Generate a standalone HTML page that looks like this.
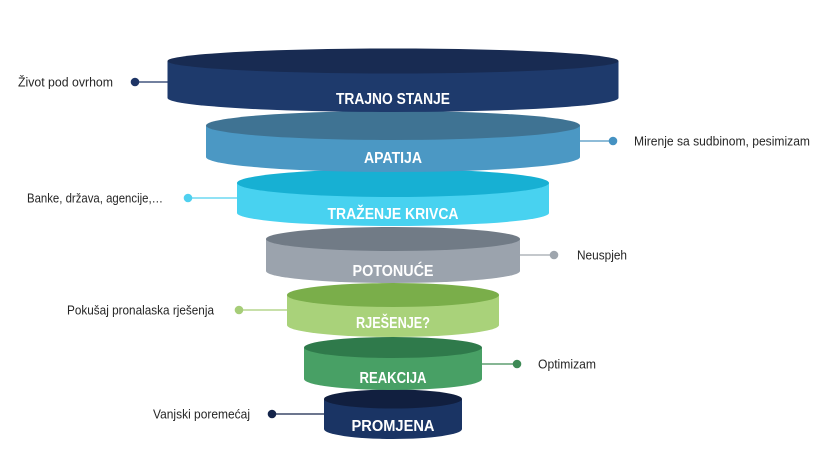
<!DOCTYPE html>
<html>
<head>
<meta charset="utf-8">
<style>
  html,body{margin:0;padding:0;background:#fff;}
  svg{display:block;}
  .lbl{font-family:"Liberation Sans",sans-serif;font-size:13px;fill:#262626;}
  .cl{font-family:"Liberation Sans",sans-serif;font-size:16px;font-weight:bold;fill:#fff;}
</style>
</head>
<body>
<svg width="833" height="466" viewBox="0 0 833 466" xmlns="http://www.w3.org/2000/svg">
  <!-- connectors -->
  <g stroke-width="1.2">
    <line x1="135" y1="82" x2="170" y2="82" stroke="#1e3566"/>
    <line x1="578" y1="141" x2="613" y2="141" stroke="#4a94c0"/>
    <line x1="188" y1="198" x2="240" y2="198" stroke="#4fd0ef"/>
    <line x1="518" y1="255" x2="554" y2="255" stroke="#a0a7ae"/>
    <line x1="239" y1="310" x2="290" y2="310" stroke="#a6cd78"/>
    <line x1="480" y1="364" x2="517" y2="364" stroke="#3d8a55"/>
    <line x1="272" y1="414" x2="327" y2="414" stroke="#14244a"/>
  </g>
  <g>
    <circle cx="135" cy="82" r="4.3" fill="#1e3566"/>
    <circle cx="613" cy="141" r="4.3" fill="#4592c2"/>
    <circle cx="188" cy="198" r="4.3" fill="#4fd0ef"/>
    <circle cx="554" cy="255" r="4.3" fill="#9ea5ad"/>
    <circle cx="239" cy="310" r="4.3" fill="#a6cd78"/>
    <circle cx="517" cy="364" r="4.3" fill="#3d8a55"/>
    <circle cx="272" cy="414" r="4.3" fill="#14244a"/>
  </g>

  <!-- L7 PROMJENA -->
  <path d="M324 399 L324 429 A69 10 0 0 0 462 429 L462 399 Z" fill="#1a3464"/>
  <ellipse cx="393" cy="399" rx="69" ry="9.5" fill="#111f3f"/>
  <!-- L6 REAKCIJA -->
  <path d="M304 347.5 L304 379 A89 11 0 0 0 482 379 L482 347.5 Z" fill="#48a065"/>
  <ellipse cx="393" cy="347.5" rx="89" ry="10.5" fill="#2f7a4b"/>
  <!-- L5 RJEŠENJE -->
  <path d="M287 295 L287 325 A106 12 0 0 0 499 325 L499 295 Z" fill="#a9d27a"/>
  <ellipse cx="393" cy="295" rx="106" ry="12" fill="#7aae4a"/>
  <!-- L4 POTONUĆE -->
  <path d="M266 239 L266 271 A127 12 0 0 0 520 271 L520 239 Z" fill="#9ba3ad"/>
  <ellipse cx="393" cy="239" rx="127" ry="12" fill="#717b86"/>
  <!-- L3 TRAŽENJE KRIVCA -->
  <path d="M237 183 L237 213 A156 13 0 0 0 549 213 L549 183 Z" fill="#48d2f0"/>
  <ellipse cx="393" cy="183" rx="156" ry="14" fill="#17b0d3"/>
  <!-- L2 APATIJA -->
  <path d="M206 125.5 L206 157 A187 15 0 0 0 580 157 L580 125.5 Z" fill="#4b98c4"/>
  <ellipse cx="393" cy="125.5" rx="187" ry="14.5" fill="#3f7393"/>
  <!-- L1 TRAJNO STANJE -->
  <path d="M167.5 61 L167.5 98 A225.5 14 0 0 0 618.5 98 L618.5 61 Z" fill="#1e3a6c"/>
  <ellipse cx="393" cy="61" rx="225.5" ry="12.5" fill="#182b52"/>

  <!-- cylinder labels (in order of layering) -->
  <text class="cl" x="393" y="104" text-anchor="middle" textLength="114" lengthAdjust="spacingAndGlyphs">TRAJNO STANJE</text>
  <text class="cl" x="393" y="163" text-anchor="middle" textLength="58" lengthAdjust="spacingAndGlyphs">APATIJA</text>
  <text class="cl" x="393" y="219" text-anchor="middle" textLength="131" lengthAdjust="spacingAndGlyphs">TRAŽENJE KRIVCA</text>
  <text class="cl" x="393" y="276" text-anchor="middle" textLength="81" lengthAdjust="spacingAndGlyphs">POTONUĆE</text>
  <text class="cl" x="393" y="328" text-anchor="middle" textLength="74" lengthAdjust="spacingAndGlyphs">RJEŠENJE?</text>
  <text class="cl" x="393" y="383" text-anchor="middle" textLength="67" lengthAdjust="spacingAndGlyphs">REAKCIJA</text>
  <text class="cl" x="393" y="431" text-anchor="middle" textLength="83" lengthAdjust="spacingAndGlyphs">PROMJENA</text>

  <!-- side labels -->
  <text class="lbl" x="18" y="86.5" textLength="95" lengthAdjust="spacingAndGlyphs">Život pod ovrhom</text>
  <text class="lbl" x="634" y="145.5" textLength="176" lengthAdjust="spacingAndGlyphs">Mirenje sa sudbinom, pesimizam</text>
  <text class="lbl" x="27" y="202.5" textLength="136" lengthAdjust="spacingAndGlyphs">Banke, država, agencije,…</text>
  <text class="lbl" x="577" y="259.5" textLength="50" lengthAdjust="spacingAndGlyphs">Neuspjeh</text>
  <text class="lbl" x="67" y="314.5" textLength="147" lengthAdjust="spacingAndGlyphs">Pokušaj pronalaska rješenja</text>
  <text class="lbl" x="538" y="368.5" textLength="58" lengthAdjust="spacingAndGlyphs">Optimizam</text>
  <text class="lbl" x="153" y="418.5" textLength="97" lengthAdjust="spacingAndGlyphs">Vanjski poremećaj</text>
</svg>
</body>
</html>
